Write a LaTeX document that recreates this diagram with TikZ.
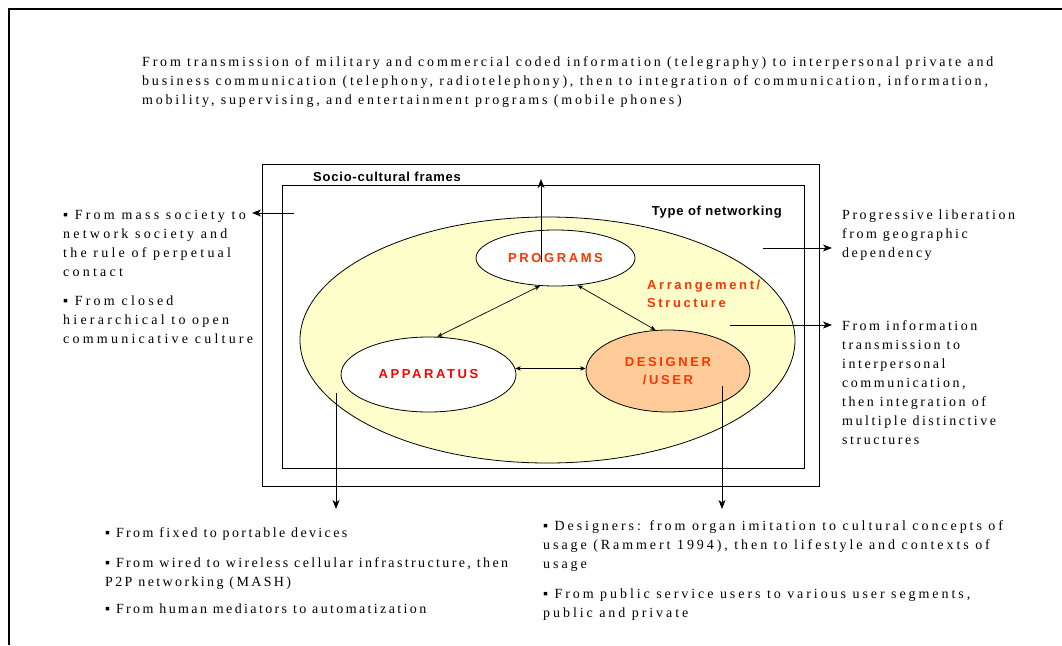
\documentclass[tikz,border=0pt]{standalone}
\usepackage{fontspec}
\setmainfont{Liberation Serif}
\newfontfamily\bodyfont[LetterSpace=15]{Liberation Serif}
\newfontfamily\headfont[LetterSpace=6]{Liberation Sans}
\newfontfamily\keyfont[LetterSpace=20]{Liberation Sans}
\usetikzlibrary{shapes.geometric,arrows.meta}

\definecolor{paleyellow}{HTML}{FFFFCC}
\definecolor{peach}{HTML}{FFCC99}
\definecolor{keyred}{HTML}{FF3300}
\definecolor{purered}{HTML}{FF0000}

% body text; the base anchor of a multi-line node sits on its last line
\tikzset{
  body/.style={font=\bodyfont\fontsize{14}{19}\selectfont, align=left, inner sep=0pt, anchor=base west},
  track/.style={font=\bodyfont\addfontfeature{LetterSpace=#1}\fontsize{14}{19}\selectfont},
  frametitle/.style={font=\headfont\bfseries\fontsize{13}{15}\selectfont, inner sep=0pt},
  keylabel/.style={font=\keyfont\bfseries\fontsize{13}{18}\selectfont, align=center},
  oval/.style={ellipse, draw, line width=0.8pt, inner sep=0pt},
  framebox/.style={draw, line width=0.8pt, inner sep=0pt},
  bigarrow/.style={-{Stealth[length=9pt,width=7pt,inset=2.5pt]}, line width=1pt},
  linkarrow/.style={{Stealth[length=5.5pt,width=4.5pt]}-{Stealth[length=5.5pt,width=4.5pt]}, line width=0.7pt},
}

\begin{document}
\begin{tikzpicture}[x=1pt,y=-1pt]
\useasboundingbox (0,0) rectangle (1062,645);

% page frame
\draw[line width=2pt] (9,645) -- (9,9) -- (1062,9);

% historical summary
\node[body, track=20] (history) at (142,104) {From transmission of military and commercial coded information (telegraphy) to interpersonal private and\\
business communication (telephony, radiotelephony), then to integration of communication, information,\\
mobility, supervising, and entertainment programs (mobile phones)};

% nested frames
\node[framebox, minimum width=557pt, minimum height=322pt] (outer) at (540.5,325) {};
\node[framebox, minimum width=522pt, minimum height=283pt] (inner) at (543,326.5) {};
\node[frametitle, anchor=west] (sctitle) at (313,177) {Socio-cultural frames};

% networking ellipse and its elements
\node[oval, fill=paleyellow, minimum width=495pt, minimum height=246pt] (net) at (547.5,340) {};
\node[frametitle, anchor=east] (nettitle) at (782,212) {Type of networking};
\node[oval, fill=white, minimum width=159pt, minimum height=56pt] (prog) at (555.5,258) {};
\coordinate (upstart) at (541,262);
\coordinate (uptip) at (541,179);
\draw[bigarrow] (upstart) -- (uptip);
\node[keylabel, text=keyred] (progtext) at (prog) {PROGRAMS};
\node[oval, fill=white, minimum width=175pt, minimum height=75pt, keylabel, text=purered] (app) at (428.5,374.5) {APPARATUS};
\node[oval, fill=peach, minimum width=164pt, minimum height=82pt, keylabel, text=keyred] (des) at (668,371) {DESIGNER\\/USER};
\node[keylabel, text=keyred, align=left, anchor=north west, inner sep=0pt] (arr) at (647,280) {Arrangement/\\Structure};

% links between the elements
\draw[linkarrow] (app.77) -- (prog.241);
\draw[linkarrow] (prog.309) -- (des.107);
\draw[linkarrow] (app.4) -- (app.4 -| des.west);

% outgoing arrows
\coordinate (lstart) at (294,213);
\coordinate (ltip) at (252,213);
\coordinate (r1start) at (763,248);
\coordinate (r1tip) at (832,248);
\coordinate (r2start) at (730,325);
\coordinate (r2tip) at (832,325);
\coordinate (d1start) at (336,393);
\coordinate (d1tip) at (336,509);
\coordinate (d2start) at (722,386);
\coordinate (d2tip) at (722,509);
\draw[bigarrow] (lstart) -- (ltip);
\draw[bigarrow] (r1start) -- (r1tip);
\draw[bigarrow] (r2start) -- (r2tip);
\draw[bigarrow] (d1start) -- (d1tip);
\draw[bigarrow] (d2start) -- (d2tip);

% left notes
\node[body, track=23] (society) at (63,276) {▪ From mass society to\\network society and\\the rule of perpetual\\contact};
\node[body, track=23] (culture) at (63,343) {▪ From closed\\hierarchical to open\\communicative culture};

% right notes
\node[body, track=18] (geo) at (842,257) {Progressive liberation\\from geographic\\dependency};
\node[body, track=18] (structure) at (842,444) {From information\\transmission to\\interpersonal\\communication,\\then integration of\\multiple distinctive\\structures};

% apparatus notes
\node[body, track=17] (devices) at (105,537) {▪ From fixed to portable devices};
\node[body, track=17] (infra) at (105,586) {▪ From wired to wireless cellular infrastructure, then\\P2P networking (MASH)};
\node[body, track=17] (mediators) at (105,613) {▪ From human mediators to automatization};

% designer/user notes
\node[body, track=21] (designers) at (543,568) {▪ Designers: from organ imitation to cultural concepts of\\usage (Rammert 1994), then to lifestyle and contexts of\\usage};
\node[body, track=21] (users) at (543,617) {▪ From public service users to various user segments,\\public and private};
\end{tikzpicture}
\end{document}
